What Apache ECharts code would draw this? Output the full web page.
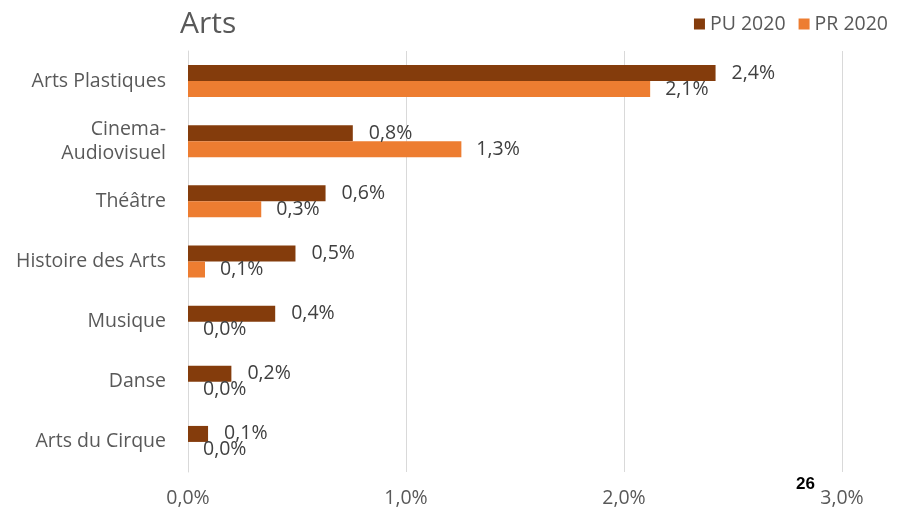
<!DOCTYPE html>
<html><head><meta charset="utf-8">
<script src="https://cdn.jsdelivr.net/npm/echarts@6/dist/echarts.min.js"></script>
<style>html,body{margin:0;padding:0;background:#fff}#c{width:897px;height:514px}</style>
</head><body><div id="c"></div>
<script>
const categories = ['Arts Plastiques', 'Cinema-\nAudiovisuel', 'Théâtre', 'Histoire des Arts', 'Musique', 'Danse', 'Arts du Cirque'];
const pu2020 = [2.42, 0.756, 0.631, 0.493, 0.40, 0.199, 0.092];
const pr2020 = [2.12, 1.254, 0.336, 0.078, 0, 0, 0];
const xTicks = [0, 1, 2, 3];
const seriesNames = ['PU 2020', 'PR 2020'];

const fmt = v => v.toFixed(1).replace('.', ',') + '%';
const font = 'Open Sans';
const fs = 19.5;
const chart = echarts.init(document.getElementById('c'));
chart.setOption({
  animation: false,
  title: { text: 'Arts', left: 175, top: 4, textStyle: { fontFamily: font, fontSize: 30, fontWeight: 'normal', color: '#595959' } },
  legend: {
    right: 4, top: 9, itemWidth: 11, itemHeight: 11, itemGap: 13, icon: 'rect',
    textStyle: { fontFamily: font, fontSize: fs, color: '#595959' },
    data: seriesNames
  },
  grid: { left: 188, right: 55, top: 51, bottom: 42, containLabel: false },
  xAxis: {
    type: 'value', min: xTicks[0], max: xTicks[xTicks.length - 1], interval: 1,
    axisLine: { show: false }, axisTick: { show: false },
    splitLine: { lineStyle: { color: '#d9d9d9', width: 1 } },
    axisLabel: { formatter: fmt, fontFamily: font, fontSize: fs, color: '#595959', margin: 16 }
  },
  yAxis: {
    type: 'category', data: categories, inverse: true,
    axisLine: { show: true, lineStyle: { color: '#d9d9d9' } }, axisTick: { show: false },
    axisLabel: { fontFamily: font, fontSize: fs, color: '#595959', margin: 22, lineHeight: 24 }
  },
  series: [
    { name: seriesNames[0], type: 'bar', data: pu2020, barWidth: 16, barGap: '0%', itemStyle: { color: '#843C0C' },
      label: { show: true, position: 'right', distance: 16, formatter: p => fmt(p.value), fontFamily: font, fontSize: fs, color: '#404040' } },
    { name: seriesNames[1], type: 'bar', data: pr2020, barWidth: 16, barGap: '0%', itemStyle: { color: '#ED7D31' },
      label: { show: true, position: 'right', distance: 15, formatter: p => fmt(p.value), fontFamily: font, fontSize: fs, color: '#404040' } }
  ],
  graphic: [{ type: 'text', left: 796, top: 476, style: { text: '26', font: 'bold 17px Arial', fill: '#000' } }]
});
</script></body></html>
